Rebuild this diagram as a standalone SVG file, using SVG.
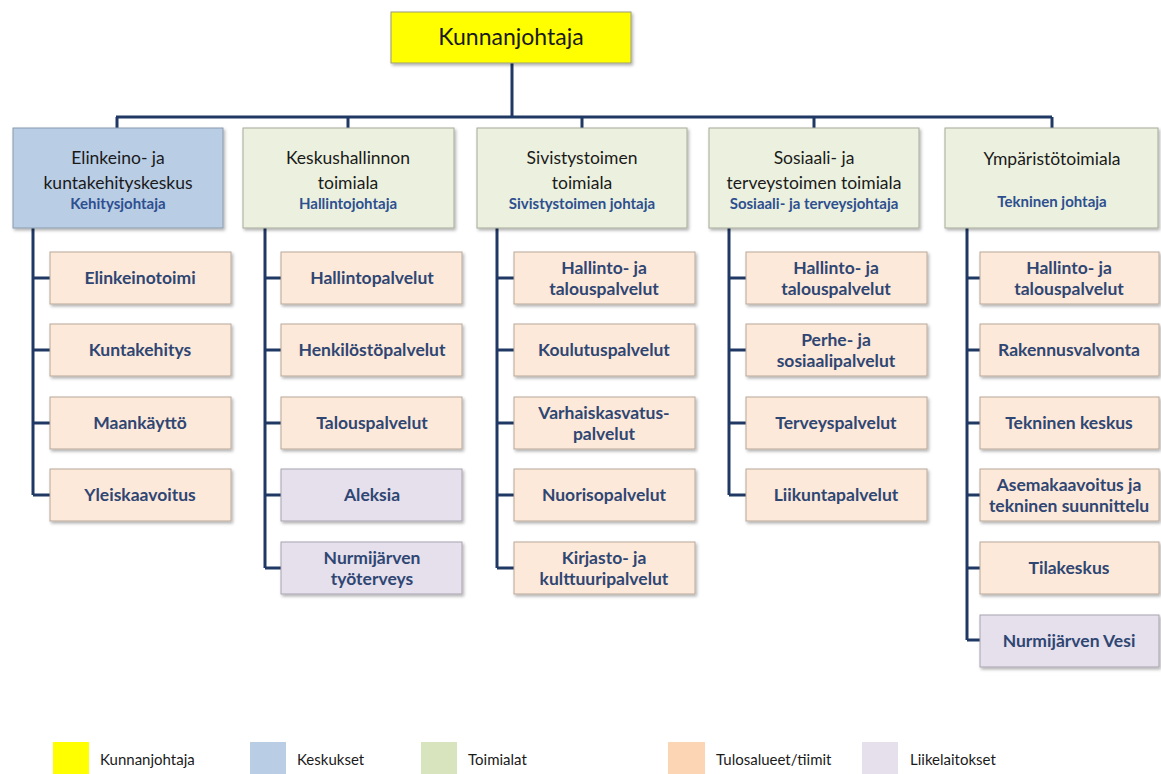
<svg xmlns="http://www.w3.org/2000/svg" width="1161" height="774" viewBox="0 0 1161 774">
<defs>
<filter id="sh" x="-10%" y="-10%" width="125%" height="130%">
<feDropShadow dx="1.5" dy="2" stdDeviation="1.5" flood-color="#000" flood-opacity="0.3"/>
</filter>
<style>
text{font-family:Lato,"Open Sans","Liberation Sans",sans-serif;text-anchor:middle}
.top{fill:#ffff00;stroke:#9a9a7a;stroke-width:1;filter:url(#sh)}
.kes{fill:#b9cde5;stroke:#8a9aab;stroke-width:1;filter:url(#sh)}
.toi{fill:#ebf1de;stroke:#a6aa9a;stroke-width:1;filter:url(#sh)}
.tul{fill:#fde9d9;stroke:#b7a79a;stroke-width:1;filter:url(#sh)}
.lii{fill:#e5e0ec;stroke:#a8a3b0;stroke-width:1;filter:url(#sh)}
.h{font-size:17.5px;fill:#1a1a1a}
.s{font-size:15px;font-weight:bold;fill:#2e4f8f}
.c{font-size:17.5px;font-weight:bold;fill:#2f4673}
.lg{font-size:15px;fill:#1a1a1a;text-anchor:start}
.ln{stroke:#1f3864;stroke-width:3;fill:none}
</style>
</defs>
<g id="connectors" class="ln">
<path d="M512 63V117M116 117H1052M117 117V128M348 117V128M582 117V128M814 117V128M1052 117V128"/>
<path d="M33 228V495M33 278H50M33 350H50M33 423H50M33 495H50"/>
<path d="M265 228V568M265 278H281M265 350H281M265 423H281M265 495H281M265 568H281"/>
<path d="M497 228V568M497 278H514M497 350H514M497 423H514M497 495H514M497 568H514"/>
<path d="M729 228V495M729 278H746M729 350H746M729 423H746M729 495H746"/>
<path d="M967 228V640M967 278H980M967 350H980M967 423H980M967 495H980M967 568H980M967 640H980"/>
</g>
<g id="kunnanjohtaja"><rect class="top" x="391" y="12" width="240" height="51"/><text x="511" y="45" style="font-size:23px;fill:#1a1a1a">Kunnanjohtaja</text></g>
<g id="elinkeino"><rect class="kes" x="13" y="128" width="210" height="100"/><text class="h" x="118" y="164">Elinkeino- ja</text><text class="h" x="118" y="189">kuntakehityskeskus</text><text class="s" x="118" y="209">Kehitysjohtaja</text></g>
<g id="keskushallinto"><rect class="toi" x="243" y="128" width="211" height="100"/><text class="h" x="348" y="164">Keskushallinnon</text><text class="h" x="348" y="189">toimiala</text><text class="s" x="348" y="209">Hallintojohtaja</text></g>
<g id="sivistys"><rect class="toi" x="477" y="128" width="210" height="100"/><text class="h" x="582" y="164">Sivistystoimen</text><text class="h" x="582" y="189">toimiala</text><text class="s" x="582" y="209">Sivistystoimen johtaja</text></g>
<g id="sosiaali"><rect class="toi" x="709" y="128" width="210" height="100"/><text class="h" x="814" y="164">Sosiaali- ja</text><text class="h" x="814" y="189">terveystoimen toimiala</text><text class="s" x="814" y="209">Sosiaali- ja terveysjohtaja</text></g>
<g id="ymparisto"><rect class="toi" x="945" y="128" width="213" height="100"/><text class="h" x="1052" y="165">Ympäristötoimiala</text><text class="s" x="1052" y="207">Tekninen johtaja</text></g>

<g id="elinkeinotoimi"><rect class="tul" x="50" y="252" width="181" height="52"/><text class="c" x="140" y="284">Elinkeinotoimi</text></g>
<g id="kuntakehitys"><rect class="tul" x="50" y="324" width="181" height="52"/><text class="c" x="140" y="356">Kuntakehitys</text></g>
<g id="maankaytto"><rect class="tul" x="50" y="397" width="181" height="52"/><text class="c" x="140" y="429">Maankäyttö</text></g>
<g id="yleiskaavoitus"><rect class="tul" x="50" y="469" width="181" height="52"/><text class="c" x="140" y="501">Yleiskaavoitus</text></g>

<g id="hallintopalvelut"><rect class="tul" x="281" y="252" width="181" height="52"/><text class="c" x="372" y="284">Hallintopalvelut</text></g>
<g id="henkilostopalvelut"><rect class="tul" x="281" y="324" width="181" height="52"/><text class="c" x="372" y="356">Henkilöstöpalvelut</text></g>
<g id="talouspalvelut"><rect class="tul" x="281" y="397" width="181" height="52"/><text class="c" x="372" y="429">Talouspalvelut</text></g>
<g id="aleksia"><rect class="lii" x="281" y="469" width="181" height="52"/><text class="c" x="372" y="501">Aleksia</text></g>
<g id="tyoterveys"><rect class="lii" x="281" y="542" width="181" height="52"/><text class="c" x="372" y="564">Nurmijärven</text><text class="c" x="372" y="585">työterveys</text></g>

<g id="siv-hallinto"><rect class="tul" x="514" y="252" width="181" height="52"/><text class="c" x="604" y="274">Hallinto- ja</text><text class="c" x="604" y="295">talouspalvelut</text></g>
<g id="koulutuspalvelut"><rect class="tul" x="514" y="324" width="181" height="52"/><text class="c" x="604" y="356">Koulutuspalvelut</text></g>
<g id="varhaiskasvatus"><rect class="tul" x="514" y="397" width="181" height="52"/><text class="c" x="604" y="419">Varhaiskasvatus-</text><text class="c" x="604" y="440">palvelut</text></g>
<g id="nuorisopalvelut"><rect class="tul" x="514" y="469" width="181" height="52"/><text class="c" x="604" y="501">Nuorisopalvelut</text></g>
<g id="kirjasto"><rect class="tul" x="514" y="542" width="181" height="52"/><text class="c" x="604" y="564">Kirjasto- ja</text><text class="c" x="604" y="585">kulttuuripalvelut</text></g>

<g id="sos-hallinto"><rect class="tul" x="746" y="252" width="181" height="52"/><text class="c" x="836" y="274">Hallinto- ja</text><text class="c" x="836" y="295">talouspalvelut</text></g>
<g id="perhe"><rect class="tul" x="746" y="324" width="181" height="52"/><text class="c" x="836" y="346">Perhe- ja</text><text class="c" x="836" y="367">sosiaalipalvelut</text></g>
<g id="terveyspalvelut"><rect class="tul" x="746" y="397" width="181" height="52"/><text class="c" x="836" y="429">Terveyspalvelut</text></g>
<g id="liikuntapalvelut"><rect class="tul" x="746" y="469" width="181" height="52"/><text class="c" x="836" y="501">Liikuntapalvelut</text></g>

<g id="ymp-hallinto"><rect class="tul" x="980" y="252" width="179" height="52"/><text class="c" x="1069" y="274">Hallinto- ja</text><text class="c" x="1069" y="295">talouspalvelut</text></g>
<g id="rakennusvalvonta"><rect class="tul" x="980" y="324" width="179" height="52"/><text class="c" x="1069" y="356">Rakennusvalvonta</text></g>
<g id="tekninen-keskus"><rect class="tul" x="980" y="397" width="179" height="52"/><text class="c" x="1069" y="429">Tekninen keskus</text></g>
<g id="asemakaavoitus"><rect class="tul" x="980" y="469" width="179" height="52"/><text class="c" x="1069" y="491">Asemakaavoitus ja</text><text class="c" x="1069" y="512">tekninen suunnittelu</text></g>
<g id="tilakeskus"><rect class="tul" x="980" y="542" width="179" height="52"/><text class="c" x="1069" y="574">Tilakeskus</text></g>
<g id="vesi"><rect class="lii" x="980" y="615" width="179" height="52"/><text class="c" x="1069" y="647">Nurmijärven Vesi</text></g>

<g id="legend">
<rect x="53" y="742" width="36" height="32" fill="#ffff00"/><text class="lg" x="100" y="765">Kunnanjohtaja</text>
<rect x="250" y="742" width="36" height="32" fill="#b9cde5"/><text class="lg" x="297" y="765">Keskukset</text>
<rect x="421" y="742" width="36" height="32" fill="#d7e4bd"/><text class="lg" x="468" y="765">Toimialat</text>
<rect x="668" y="742" width="37" height="32" fill="#fcd5b5"/><text class="lg" x="716" y="765">Tulosalueet/tiimit</text>
<rect x="862" y="742" width="36" height="32" fill="#e6e0ec"/><text class="lg" x="910" y="765">Liikelaitokset</text>
</g>
</svg>
